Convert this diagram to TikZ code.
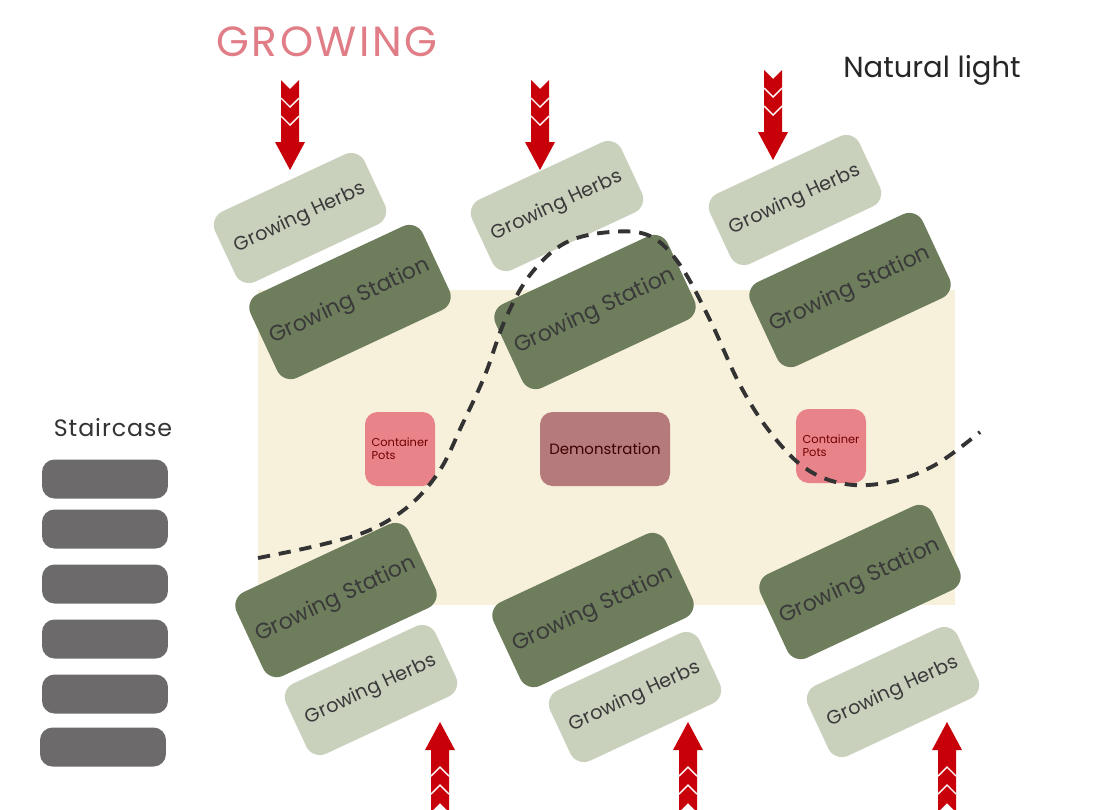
\documentclass[tikz,border=0pt]{standalone}
\usepackage{fontspec}
\setmainfont{Poppins}
\definecolor{herbc}{HTML}{C9D1BD}
\definecolor{stationc}{HTML}{6E7D5C}
\definecolor{beigec}{HTML}{F7F1DC}
\definecolor{stairc}{HTML}{6D6A6B}
\definecolor{potc}{HTML}{E8838A}
\definecolor{democ}{HTML}{B47A7C}
\definecolor{arrowc}{HTML}{C8000A}
\definecolor{txtc}{HTML}{3A3A3A}
\definecolor{growc}{HTML}{E07D86}
\tikzset{
  herb/.style={fill=herbc, rounded corners=0.3cm, minimum width=3.3cm, minimum height=1.55cm, rotate=25, text=txtc, font=\fontsize{11}{13}\selectfont, inner sep=0pt},
  station/.style={fill=stationc, rounded corners=0.3cm, minimum width=3.8cm, minimum height=1.85cm, rotate=25, text=txtc, font=\fontsize{12.5}{15}\selectfont, inner sep=0pt},
  stair/.style={fill=stairc, rounded corners=0.25cm, minimum width=2.52cm, minimum height=0.78cm, inner sep=0pt},
  pot/.style={fill=potc, rounded corners=0.25cm, minimum width=1.4cm, minimum height=1.48cm, text=red!45!black, font=\fontsize{6.5}{7.5}\selectfont, align=left, inner sep=0pt},
  demo/.style={fill=democ, rounded corners=0.25cm, minimum width=2.6cm, minimum height=1.48cm, text=red!25!black, font=\fontsize{8.5}{10}\selectfont, inner sep=0pt},
  curve/.style={draw=black!80, line width=2.2pt, dash pattern=on 7pt off 5pt},
  pics/redarrow/.style={code={
    \fill[arrowc] (-9,0) -- (0,9) -- (9,0) -- (9,62) -- (15,62) -- (0,90) -- (-15,62) -- (-9,62) -- cycle;
    \draw[white, line width=0.8pt] (-9,18) -- (0,27) -- (9,18);
    \draw[white, line width=0.8pt] (-9,36) -- (0,45) -- (9,36);
  }}
}
\begin{document}
\begin{tikzpicture}[x=0.02cm, y=-0.02cm]
\clip (0,0) rectangle (1097,809);
\fill[white] (0,0) rectangle (1097,809);
% beige floor
\fill[beigec] (258,290) rectangle (955,605);
% titles
\node[text=growc, font=\fontsize{24}{28}\selectfont\addfontfeatures{LetterSpace=6}] (grow) at (327,42) {GROWING};
\node[text=black!85, font=\fontsize{16.5}{20}\selectfont] (light) at (932,70) {Natural light};
\node[text=black!80, font=\fontsize{13.5}{15}\selectfont\addfontfeatures{LetterSpace=4}] (stairlbl) at (113,428) {Staircase};
% staircase
\node[stair] (st1) at (105,479) {};
\node[stair] (st2) at (105,529) {};
\node[stair] (st3) at (105,584) {};
\node[stair] (st4) at (105,639) {};
\node[stair] (st5) at (105,694) {};
\node[stair] (st6) at (103,747) {};
% herbs top
\node[herb] (h1) at (300,218) {Growing Herbs};
\node[herb] (h2) at (557,206) {Growing Herbs};
\node[herb] (h3) at (795,200) {Growing Herbs};
% stations top
\node[station] (s1) at (350,302) {Growing Station};
\node[station] (s2) at (595,312) {Growing Station};
\node[station] (s3) at (850,290) {Growing Station};
% stations bottom
\node[station] (s4) at (336,600) {Growing Station};
\node[station] (s5) at (593,610) {Growing Station};
\node[station] (s6) at (860,582) {Growing Station};
% herbs bottom
\node[herb] (h4) at (371,690) {Growing Herbs};
\node[herb] (h5) at (635,697) {Growing Herbs};
\node[herb] (h6) at (893,692) {Growing Herbs};
% pots and demo
\node[pot] (p1) at (400,449) {Container\\Pots};
\node[demo] (demo) at (605,449) {Demonstration};
\node[pot] (p2) at (831,446) {Container\\Pots};
% arrows
\pic at (290,80) {redarrow};
\pic at (540,80) {redarrow};
\pic at (773,70) {redarrow};
\pic[rotate=180] at (440,812) {redarrow};
\pic[rotate=180] at (688,812) {redarrow};
\pic[rotate=180] at (947,812) {redarrow};
% dashed curve
\draw[curve] plot[smooth, tension=0.6] coordinates {(258,558) (320,545) (370,530) (410,505) (440,470) (462,425) (485,375) (505,320) (530,275) (565,243) (610,232) (650,236) (680,265) (710,320) (740,385) (770,432) (805,468) (845,484) (890,482) (935,465) (980,432)};
\end{tikzpicture}
\end{document}
